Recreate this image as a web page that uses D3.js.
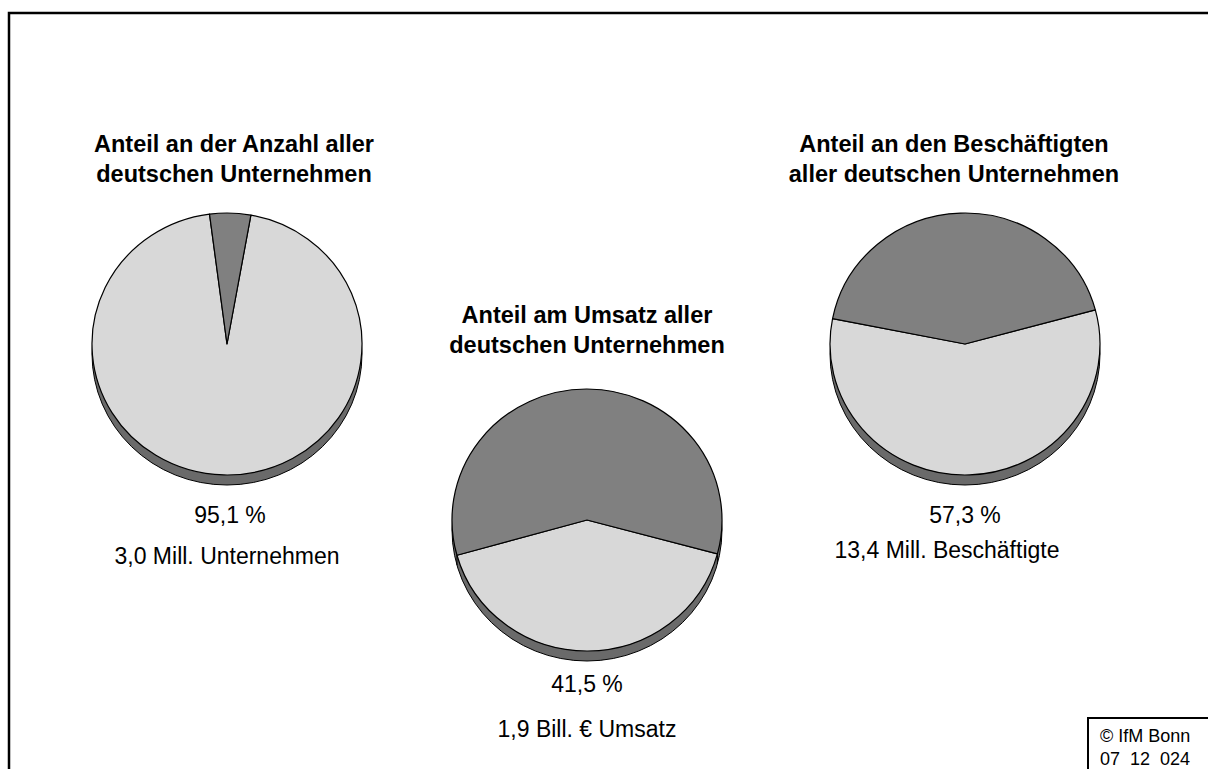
<!DOCTYPE html>
<html>
<head>
<meta charset="utf-8">
<script src="https://cdn.jsdelivr.net/npm/d3@7"></script>
<style>
  body { margin: 0; background: #fff; }
  svg { display: block; font-family: "Liberation Sans", Arial, sans-serif; }
</style>
</head>
<body>
<div id="chart"></div>
<script>
const width = 1208;
const height = 769;

// data
const titles = [
    ['Anteil an der Anzahl aller', 'deutschen Unternehmen'],
    ['Anteil am Umsatz aller', 'deutschen Unternehmen'],
    ['Anteil an den Beschäftigten', 'aller deutschen Unternehmen']
];
const kmuShare = [95.1, 41.5, 57.3];
const shareLabels = ['95,1 %', '41,5 %', '57,3 %'];
const absLabels = ['3,0 Mill. Unternehmen', '1,9 Bill. € Umsatz', '13,4 Mill. Beschäftigte'];
const sourceLines = ['© IfM Bonn', '07  12  024'];

// layout (positions of each pie block)
const layout = [
    {cx: 227, cy: 344, rot: 10.2, titleX: 234, titleY: 152, pctX: 230, pctY: 523, absX: 227, absY: 564},
    {cx: 587, cy: 520, rot: 105, titleX: 587, titleY: 323, pctX: 587, pctY: 692, absX: 587, absY: 737},
    {cx: 965, cy: 344, rot: 74.9, titleX: 954, titleY: 152, pctX: 965, pctY: 523, absX: 947, absY: 558}
];
const rx = 135, ry = 131, depth = 10;

const color = d3.scaleOrdinal().domain(['kmu', 'rest']).range(['#d8d8d8', '#808080']);
const rimColor = '#6a6a6a';

const svg = d3.select('#chart').append('svg').attr('width', width).attr('height', height);

// frame
svg.append('path')
    .attr('d', 'M9,769 V13 H1208')
    .attr('fill', 'none')
    .attr('stroke', '#000')
    .attr('stroke-width', 2.5);

const arc = d3.arc().innerRadius(0).outerRadius(rx);

kmuShare.forEach((v, i) => {
    const L = layout[i];
    const a0 = L.rot * Math.PI / 180;
    const pie = d3.pie().sort(null).value(d => d.value).startAngle(a0).endAngle(a0 + 2 * Math.PI);
    const slices = pie([{key: 'kmu', value: v}, {key: 'rest', value: 100 - v}]);

    const g = svg.append('g');

    // side of the 3d pie
    g.append('ellipse')
        .attr('cx', L.cx).attr('cy', L.cy + depth)
        .attr('rx', rx).attr('ry', ry)
        .attr('fill', rimColor)
        .attr('stroke', '#000').attr('stroke-width', 1);

    // edges of slices on the front side
    slices.forEach(s => {
        const a = s.startAngle % (2 * Math.PI);
        if (a > Math.PI / 2 && a < 3 * Math.PI / 2) {
            const x = L.cx + Math.sin(a) * rx;
            const y = L.cy - Math.cos(a) * ry;
            g.append('line')
                .attr('x1', x).attr('x2', x).attr('y1', y).attr('y2', y + depth)
                .attr('stroke', '#000').attr('stroke-width', 1);
        }
    });

    // top face
    g.append('g')
        .attr('transform', `translate(${L.cx},${L.cy}) scale(1,${ry / rx})`)
        .selectAll('path')
        .data(slices)
        .join('path')
        .attr('d', arc)
        .attr('fill', d => color(d.data.key))
        .attr('stroke', '#000')
        .attr('stroke-width', 1.2)
        .attr('stroke-linejoin', 'round')
        .attr('vector-effect', 'non-scaling-stroke');

    // title
    svg.append('text')
        .attr('x', L.titleX).attr('y', L.titleY)
        .attr('text-anchor', 'middle')
        .attr('font-weight', 'bold')
        .attr('font-size', 23.5)
        .selectAll('tspan')
        .data(titles[i])
        .join('tspan')
        .attr('x', L.titleX)
        .attr('dy', (d, j) => j === 0 ? 0 : 30)
        .text(d => d);

    svg.append('text')
        .attr('x', L.pctX).attr('y', L.pctY)
        .attr('text-anchor', 'middle')
        .attr('font-size', 23)
        .text(shareLabels[i]);

    svg.append('text')
        .attr('x', L.absX).attr('y', L.absY)
        .attr('text-anchor', 'middle')
        .attr('font-size', 23)
        .text(absLabels[i]);
});

// source box
svg.append('path')
    .attr('d', 'M1088,769 V718 H1208')
    .attr('fill', 'none')
    .attr('stroke', '#000')
    .attr('stroke-width', 2);

svg.append('g')
    .selectAll('text')
    .data(sourceLines)
    .join('text')
    .attr('x', 1100)
    .attr('y', (d, i) => 742 + i * 23)
    .attr('font-size', 18)
    .style('white-space', 'pre')
    .text(d => d);
</script>
</body>
</html>
